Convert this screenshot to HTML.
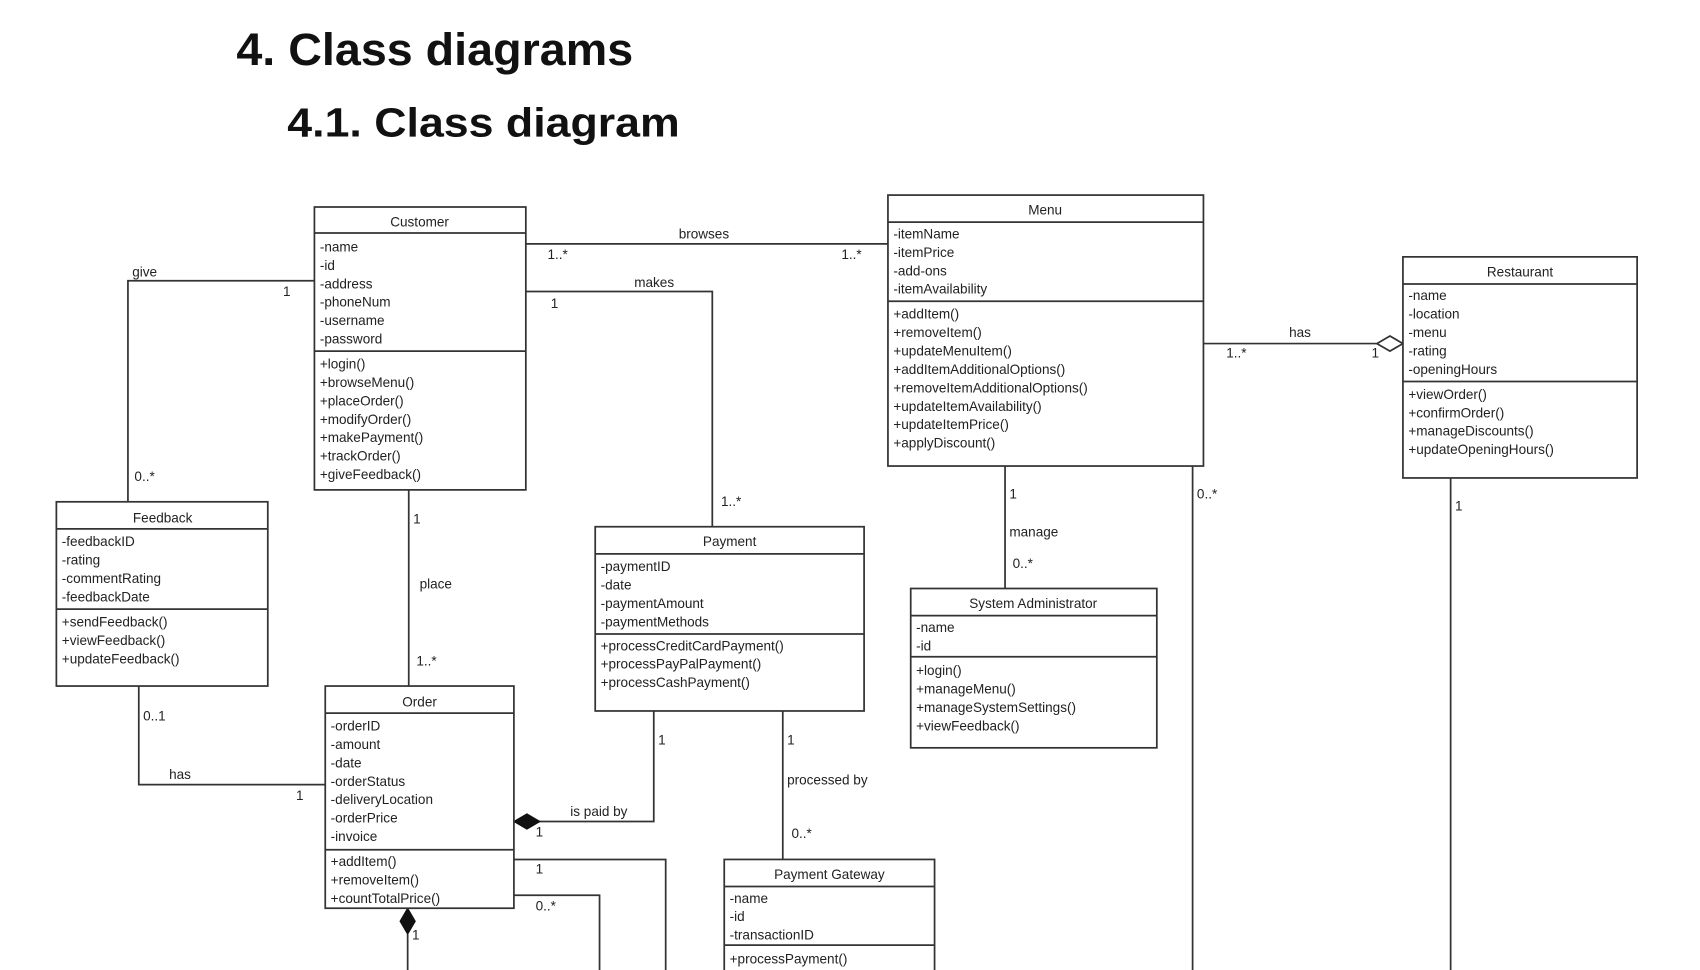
<!DOCTYPE html>
<html><head><meta charset="utf-8"><style>
html,body{margin:0;padding:0;background:#fff;}
svg{display:block;}
text{font-family:"Liberation Sans",sans-serif;fill:#222;}
.t{font-size:12.5px;}
.c{font-size:12.5px;text-anchor:middle;}
.l{font-size:12.5px;}
rect{fill:#fff;stroke:#333;stroke-width:1.6;}
line,polyline{stroke:#333;stroke-width:1.6;fill:none;}
</style></head><body>
<svg width="1700" height="970" viewBox="0 0 1568 895" preserveAspectRatio="none" xmlns="http://www.w3.org/2000/svg">
<text x="218" y="60" style="font-size:42px;font-weight:bold;fill:#111" textLength="366" lengthAdjust="spacingAndGlyphs">4. Class diagrams</text>
<text x="265" y="126" style="font-size:38px;font-weight:bold;fill:#111" textLength="362" lengthAdjust="spacingAndGlyphs">4.1.  Class diagram</text>

<!-- connectors -->
<line x1="485" y1="225" x2="819" y2="225"/>
<polyline points="290,259 118,259 118,463"/>
<polyline points="485,269 657,269 657,486"/>
<line x1="1110" y1="317" x2="1270" y2="317"/>
<polygon points="1270,317 1282,310 1294,317 1282,324" fill="#fff" stroke="#333" stroke-width="1.6"/>
<line x1="927" y1="430" x2="927" y2="543"/>
<line x1="1100" y1="430" x2="1100" y2="895"/>
<line x1="1338" y1="441" x2="1338" y2="895"/>
<line x1="377" y1="452" x2="377" y2="633"/>
<polyline points="128,633 128,724 300,724"/>
<polyline points="497,758 603,758 603,656"/>
<polygon points="474,758 486,751 498,758 486,765" fill="#111" stroke="#111"/>
<line x1="722" y1="656" x2="722" y2="793"/>
<polyline points="474,793 614,793 614,895"/>
<polyline points="474,826 553,826 553,895"/>
<line x1="376" y1="862" x2="376" y2="895"/>
<polygon points="376,838 383,850 376,862 369,850" fill="#111" stroke="#111"/>

<!-- labels -->
<text class="l" x="626" y="220">browses</text>
<text class="l" x="505" y="239">1..*</text>
<text class="l" x="776" y="239">1..*</text>
<text class="l" x="122" y="255">give</text>
<text class="l" x="261" y="273">1</text>
<text class="l" x="124" y="444">0..*</text>
<text class="l" x="585" y="265">makes</text>
<text class="l" x="508" y="284">1</text>
<text class="l" x="665" y="467">1..*</text>
<text class="l" x="1189" y="311">has</text>
<text class="l" x="1131" y="330">1..*</text>
<text class="l" x="1265" y="330">1</text>
<text class="l" x="931" y="460">1</text>
<text class="l" x="931" y="495">manage</text>
<text class="l" x="934" y="524">0..*</text>
<text class="l" x="1104" y="460">0..*</text>
<text class="l" x="1342" y="471">1</text>
<text class="l" x="381" y="483">1</text>
<text class="l" x="387" y="543">place</text>
<text class="l" x="384" y="614">1..*</text>
<text class="l" x="132" y="665">0..1</text>
<text class="l" x="156" y="719">has</text>
<text class="l" x="273" y="738">1</text>
<text class="l" x="526" y="753">is paid by</text>
<text class="l" x="494" y="772">1</text>
<text class="l" x="607" y="687">1</text>
<text class="l" x="726" y="687">1</text>
<text class="l" x="726" y="724">processed by</text>
<text class="l" x="730" y="773">0..*</text>
<text class="l" x="494" y="806">1</text>
<text class="l" x="494" y="840">0..*</text>
<text class="l" x="380" y="867">1</text>

<!-- Customer -->
<rect x="290" y="191" width="195" height="261"/>
<line x1="290" y1="215" x2="485" y2="215"/><line x1="290" y1="324" x2="485" y2="324"/>
<text class="c" x="387" y="209">Customer</text>
<text class="t" x="295" y="232">-name</text><text class="t" x="295" y="249">-id</text><text class="t" x="295" y="266">-address</text><text class="t" x="295" y="283">-phoneNum</text><text class="t" x="295" y="300">-username</text><text class="t" x="295" y="317">-password</text>
<text class="t" x="295" y="340">+login()</text><text class="t" x="295" y="357">+browseMenu()</text><text class="t" x="295" y="374">+placeOrder()</text><text class="t" x="295" y="391">+modifyOrder()</text><text class="t" x="295" y="408">+makePayment()</text><text class="t" x="295" y="425">+trackOrder()</text><text class="t" x="295" y="442">+giveFeedback()</text>

<!-- Menu -->
<rect x="819" y="180" width="291" height="250"/>
<line x1="819" y1="205" x2="1110" y2="205"/><line x1="819" y1="278" x2="1110" y2="278"/>
<text class="c" x="964" y="198">Menu</text>
<text class="t" x="824" y="220">-itemName</text><text class="t" x="824" y="237">-itemPrice</text><text class="t" x="824" y="254">-add-ons</text><text class="t" x="824" y="271">-itemAvailability</text>
<text class="t" x="824" y="294">+addItem()</text><text class="t" x="824" y="311">+removeItem()</text><text class="t" x="824" y="328">+updateMenuItem()</text><text class="t" x="824" y="345">+addItemAdditionalOptions()</text><text class="t" x="824" y="362">+removeItemAdditionalOptions()</text><text class="t" x="824" y="379">+updateItemAvailability()</text><text class="t" x="824" y="396">+updateItemPrice()</text><text class="t" x="824" y="413">+applyDiscount()</text>

<!-- Restaurant -->
<rect x="1294" y="237" width="216" height="204"/>
<line x1="1294" y1="262" x2="1510" y2="262"/><line x1="1294" y1="352" x2="1510" y2="352"/>
<text class="c" x="1402" y="255">Restaurant</text>
<text class="t" x="1299" y="277">-name</text><text class="t" x="1299" y="294">-location</text><text class="t" x="1299" y="311">-menu</text><text class="t" x="1299" y="328">-rating</text><text class="t" x="1299" y="345">-openingHours</text>
<text class="t" x="1299" y="368">+viewOrder()</text><text class="t" x="1299" y="385">+confirmOrder()</text><text class="t" x="1299" y="402">+manageDiscounts()</text><text class="t" x="1299" y="419">+updateOpeningHours()</text>

<!-- Feedback -->
<rect x="52" y="463" width="195" height="170"/>
<line x1="52" y1="488" x2="247" y2="488"/><line x1="52" y1="562" x2="247" y2="562"/>
<text class="c" x="150" y="482">Feedback</text>
<text class="t" x="57" y="504">-feedbackID</text><text class="t" x="57" y="521">-rating</text><text class="t" x="57" y="538">-commentRating</text><text class="t" x="57" y="555">-feedbackDate</text>
<text class="t" x="57" y="578">+sendFeedback()</text><text class="t" x="57" y="595">+viewFeedback()</text><text class="t" x="57" y="612">+updateFeedback()</text>

<!-- Payment -->
<rect x="549" y="486" width="248" height="170"/>
<line x1="549" y1="511" x2="797" y2="511"/><line x1="549" y1="585" x2="797" y2="585"/>
<text class="c" x="673" y="504">Payment</text>
<text class="t" x="554" y="527">-paymentID</text><text class="t" x="554" y="544">-date</text><text class="t" x="554" y="561">-paymentAmount</text><text class="t" x="554" y="578">-paymentMethods</text>
<text class="t" x="554" y="600">+processCreditCardPayment()</text><text class="t" x="554" y="617">+processPayPalPayment()</text><text class="t" x="554" y="634">+processCashPayment()</text>

<!-- System Administrator -->
<rect x="840" y="543" width="227" height="147"/>
<line x1="840" y1="568" x2="1067" y2="568"/><line x1="840" y1="606" x2="1067" y2="606"/>
<text class="c" x="953" y="561">System Administrator</text>
<text class="t" x="845" y="583">-name</text><text class="t" x="845" y="600">-id</text>
<text class="t" x="845" y="623">+login()</text><text class="t" x="845" y="640">+manageMenu()</text><text class="t" x="845" y="657">+manageSystemSettings()</text><text class="t" x="845" y="674">+viewFeedback()</text>

<!-- Order -->
<rect x="300" y="633" width="174" height="205"/>
<line x1="300" y1="658" x2="474" y2="658"/><line x1="300" y1="784" x2="474" y2="784"/>
<text class="c" x="387" y="652">Order</text>
<text class="t" x="305" y="674">-orderID</text><text class="t" x="305" y="691">-amount</text><text class="t" x="305" y="708">-date</text><text class="t" x="305" y="725">-orderStatus</text><text class="t" x="305" y="742">-deliveryLocation</text><text class="t" x="305" y="759">-orderPrice</text><text class="t" x="305" y="776">-invoice</text>
<text class="t" x="305" y="799">+addItem()</text><text class="t" x="305" y="816">+removeItem()</text><text class="t" x="305" y="833">+countTotalPrice()</text>

<!-- Payment Gateway -->
<rect x="668" y="793" width="194" height="110"/>
<line x1="668" y1="818" x2="862" y2="818"/><line x1="668" y1="872" x2="862" y2="872"/>
<text class="c" x="765" y="811">Payment Gateway</text>
<text class="t" x="673" y="833">-name</text><text class="t" x="673" y="850">-id</text><text class="t" x="673" y="867">-transactionID</text>
<text class="t" x="673" y="889">+processPayment()</text>
</svg>
</body></html>
